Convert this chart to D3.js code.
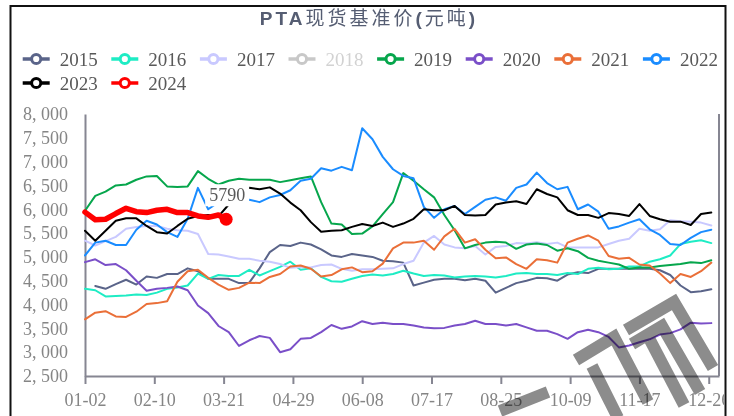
<!DOCTYPE html>
<html>
<head>
<meta charset="utf-8">
<script src="https://cdn.jsdelivr.net/npm/d3@7"></script>
<style>
  body { margin: 0; background: #fff; }
  text { font-family: "Liberation Serif", "DejaVu Serif", serif; }
</style>
</head>
<body>
<div id="chart"></div>
<script>
// x axis is a category axis of trading days, values sampled every 4 days
var step = 4;
var nDays = 247;
var tickIdx = [0, 27, 54, 81, 108, 135, 162, 189, 216, 243];
var tickLabels = ["01-02", "02-10", "03-21", "04-29", "06-08", "07-17", "08-25", "10-09", "11-17", "12-26"];
var yTicks = [2500, 3000, 3500, 4000, 4500, 5000, 5500, 6000, 6500, 7000, 7500, 8000];

var years = ["2015", "2016", "2017", "2018", "2019", "2020", "2021", "2022", "2023", "2024"];
var colors = ["#5a6489", "#1eecc4", "#c9c9ff", "#c8c8c8", "#06a64c", "#7a4fc8", "#ea6f38", "#1a8cff", "#000000", "#ff0000"];

var s2015 = [null,4390,4330,4430,4520,4420,4590,4560,4640,4640, 4760,4700,4540,4540,4540,4450,4460,4760,5100,5250,
  5230,5300,5260,5160,5030,5000,5060,5030,5000,4920, 4910,4880,4400,4460,4520,4540,4540,4510,4540,4500,
  4250,4350,4450,4500,4560,4550,4500,4630,4680,4660, 4750,4750,4750,4750,4750,4750,4720,4620,4400,4260,
  4280,4320];
var s2016 = [4330,4300,4170,4180,4190,4210,4200,4250,4330,4360, 4400,4650,4540,4620,4600,4600,4730,4610,4700,4790,
  4900,4730,4760,4580,4490,4480,4540,4600,4630,4610, 4640,4710,4650,4600,4620,4610,4570,4590,4600,4590,
  4570,4600,4650,4660,4640,4640,4620,4660,4640,4750, 4770,4740,4750,4800,4800,4900,4950,5030,5270,5320,
  5350,5290];
var s2017 = [5340,5240,5330,5420,5590,5630,5650,5650,5590,5560, 5550,5480,5060,5050,5010,4960,4960,4920,4900,4850,
  4770,4790,4780,4830,4840,4750,4710,4740,4740,4750, 4760,4850,4920,5300,5440,5260,5200,5180,5230,5050,
  5210,5230,5290,5280,5310,5270,5300,5200,5200,5200, 5200,5270,5340,5380,5590,5550,5580,5770,5750,5740,
  5720,5660];
var s2018 = []; // hidden in the legend
var s2019 = [5970,6280,6370,6500,6520,6620,6690,6700,6480,6470, 6480,6800,6640,6520,6600,6640,6620,6620,6620,6570,
  6610,6650,6690,6150,5700,5680,5480,5490,5640,5900, 6150,6760,6600,6420,6250,5880,5560,5180,5250,5300,
  5320,5300,5170,5260,5280,5250,5130,5180,5120,4980, 4920,4880,4840,4750,4780,4780,4810,4830,4850,4890,
  4870,4930];
var s2020 = [4890,4950,4830,4850,4720,4500,4290,4330,4350,4380, 4300,3980,3820,3550,3420,3130,3250,3340,3300,3000,
  3060,3280,3300,3420,3570,3490,3540,3650,3590,3620, 3590,3590,3560,3520,3500,3510,3560,3590,3660,3590,
  3590,3560,3590,3520,3450,3450,3380,3280,3420,3470, 3420,3320,3100,3140,3210,3270,3370,3400,3480,3620,
  3600,3610];
var s2021 = [3690,3830,3860,3750,3740,3850,4010,4030,4070,4480, 4700,4730,4560,4420,4310,4350,4460,4450,4580,4640,
  4800,4820,4750,4590,4620,4740,4780,4680,4700,4860, 5180,5300,5300,5340,5150,5430,5590,5300,5370,5150,
  4970,4990,4850,4750,4950,4930,4880,5300,5380,5450, 5340,5020,4960,4980,4840,4820,4650,4450,4640,4580,
  4700,4880];
var s2022 = [5030,5300,5340,5250,5250,5570,5760,5680,5520,5420, 5800,6450,6000,6150,6180,6100,6200,6150,6250,6300,
  6400,6600,6640,6860,6810,6890,6820,7700,7470,7100, 6840,6700,6650,6050,5820,6000,6070,5900,6050,6200,
  6250,6180,6450,6520,6770,6550,6420,6470,6000,6100, 5950,5590,5640,5720,5790,5580,5460,5270,5250,5400,
  5520,5570];
var s2023 = [5550,5340,5550,5760,5810,5810,5650,5520,5490,5650, 5800,5860,5880,5850,6100,6380,6450,6420,6460,6330,
  6140,5980,5730,5530,5550,5560,5630,5690,5650,5720, 5630,5700,5800,6000,5980,5980,6070,5880,5870,5880,
  6100,6140,6170,6110,6420,6320,6250,5980,5880,5880, 5820,5920,5900,5860,6110,5860,5790,5740,5740,5670,
  5900,5930];
var s2024 = [5940,5780,5790,5910,6020,5950,5930,5980,6000,5930, 5930,5860,5830,5880];
var last2024 = {idx: 55, value: 5790};

var seriesData = [s2015, s2016, s2017, s2018, s2019, s2020, s2021, s2022, s2023, s2024];

var fullwidth = 734;
var fullheight = 416;

var svg = d3.select("#chart").append("svg")
    .attr("width", fullwidth)
    .attr("height", fullheight);

var x = d3.scaleLinear().domain([0, nDays]).range([85, 719]);
var y = d3.scaleLinear().domain([2500, 8000]).range([376, 114]);

// outer frame
svg.append("rect")
    .attr("x", 10.5).attr("y", 6)
    .attr("width", 715).attr("height", 430)
    .attr("fill", "none")
    .attr("stroke", "#111")
    .attr("stroke-width", 2);

svg.append("clipPath").attr("id", "inner")
    .append("rect").attr("x", 12).attr("y", 7).attr("width", 712).attr("height", 409);

// title
var title = svg.append("text")
    .attr("x", 369)
    .attr("y", 25)
    .attr("text-anchor", "middle")
    .attr("fill", "#555d72")
    .style("letter-spacing", "3px");
title.append("tspan")
    .style("font-family", "'Liberation Sans', Arial, sans-serif")
    .attr("font-weight", "bold")
    .attr("font-size", 19)
    .text("PTA");
title.append("tspan")
    .style("font-family", "'Noto Sans CJK SC', sans-serif")
    .attr("font-size", 19)
    .text("现货基准价");
title.append("tspan")
    .style("font-family", "'Liberation Sans', Arial, sans-serif")
    .attr("font-weight", "bold")
    .attr("font-size", 19)
    .text("(");
title.append("tspan")
    .style("font-family", "'Noto Sans CJK SC', sans-serif")
    .attr("font-size", 19)
    .text("元吨");
title.append("tspan")
    .style("font-family", "'Liberation Sans', Arial, sans-serif")
    .attr("font-weight", "bold")
    .attr("font-size", 19)
    .text(")");

// legend
var legend = svg.selectAll("g.legend")
    .data(years)
    .enter()
    .append("g")
    .attr("class", "legend")
    .attr("transform", function(d, i) {
        var row = i < 8 ? 0 : 1;
        var col = i < 8 ? i : i - 8;
        return "translate(" + (22.7 + col * 88.6) + "," + (59 + row * 24) + ")";
    });

legend.append("line")
    .attr("x1", 0).attr("x2", 27)
    .attr("stroke", function(d, i) { return colors[i]; })
    .attr("stroke-width", 3.5);

legend.append("circle")
    .attr("cx", 13.5)
    .attr("r", 4.6)
    .attr("fill", "#fff")
    .attr("stroke", function(d, i) { return colors[i]; })
    .attr("stroke-width", 3);

legend.append("text")
    .attr("x", 37)
    .attr("dy", 6.5)
    .attr("font-size", 19)
    .attr("fill", function(d) { return d === "2018" ? "#d2d2d2" : "#595959"; })
    .text(function(d) { return d; });

// axes
var axisColor = "#868692";

var yAxis = svg.append("g")
    .attr("transform", "translate(85,0)")
    .call(d3.axisLeft(y)
        .tickValues(yTicks)
        .tickSize(0)
        .tickPadding(17)
        .tickFormat(function(d) { return d3.format(",")(d).replace(",", ", "); }));
yAxis.select(".domain").attr("stroke", axisColor).attr("stroke-width", 2);
yAxis.selectAll("text")
    .attr("font-size", 18)
    .attr("fill", "#858585")
    .style("font-family", "'Liberation Serif', serif");

var xAxis = svg.append("g")
    .attr("clip-path", "url(#inner)")
    .append("g")
    .attr("transform", "translate(0,376)")
    .call(d3.axisBottom(x)
        .tickValues(tickIdx)
        .tickSize(8)
        .tickSizeOuter(0)
        .tickPadding(9)
        .tickFormat(function(d, i) { return tickLabels[i]; }));
xAxis.select(".domain").attr("stroke", axisColor).attr("stroke-width", 2);
xAxis.selectAll(".tick line").attr("stroke", axisColor).attr("stroke-width", 2);
xAxis.selectAll("text")
    .attr("font-size", 18)
    .attr("fill", "#858585")
    .style("font-family", "'Liberation Serif', serif");

// right side line
svg.append("line")
    .attr("x1", x(nDays)).attr("x2", x(nDays))
    .attr("y1", y(8000)).attr("y2", y(2500))
    .attr("stroke", axisColor)
    .attr("stroke-width", 2);

// series lines
var line = d3.line()
    .defined(function(d) { return d[1] != null; })
    .x(function(d) { return x(d[0]); })
    .y(function(d) { return y(d[1]); });

seriesData.forEach(function(vals, s) {
    if (!vals.length) return;
    var pts = vals.map(function(v, i) { return [i * step, v]; });
    if (years[s] === "2024") pts.push([last2024.idx, last2024.value]);
    svg.append("path")
        .datum(pts)
        .attr("fill", "none")
        .attr("stroke", colors[s])
        .attr("stroke-width", years[s] === "2024" ? 5.5 : 2)
        .attr("stroke-linejoin", "round")
        .attr("stroke-linecap", "round")
        .attr("d", line);
});

// end point of 2024 and its label
svg.append("circle")
    .attr("cx", x(last2024.idx))
    .attr("cy", y(last2024.value))
    .attr("r", 6.5)
    .attr("fill", "#ff0000");

svg.append("rect")
    .attr("x", x(last2024.idx) - 21)
    .attr("y", y(last2024.value) - 35)
    .attr("width", 44)
    .attr("height", 22)
    .attr("fill", "#fff");

svg.append("text")
    .attr("x", x(last2024.idx) + 1)
    .attr("y", y(last2024.value) - 18)
    .attr("text-anchor", "middle")
    .attr("font-size", 18)
    .attr("fill", "#595959")
    .text(last2024.value);

// watermark strokes (rough)
var wm = svg.append("g")
    .attr("clip-path", "url(#inner)")
    .style("mix-blend-mode", "multiply")
    .attr("fill", "none")
    .attr("stroke", "#8c8c8c")
    .attr("stroke-width", 12)
    .attr("stroke-linejoin", "miter");
var wmPaths = [
    [[500, 411], [548, 392]],
    [[576, 360], [614, 337], [648, 402]],
    [[592, 366], [618, 418]],
    [[626, 330], [674, 302], [713, 368]],
    [[632, 344], [662, 326], [700, 392]],
    [[650, 340], [684, 405]]
];
wmPaths.forEach(function(p) {
    wm.append("path").attr("d", d3.line()(p));
});
</script>
</body>
</html>
